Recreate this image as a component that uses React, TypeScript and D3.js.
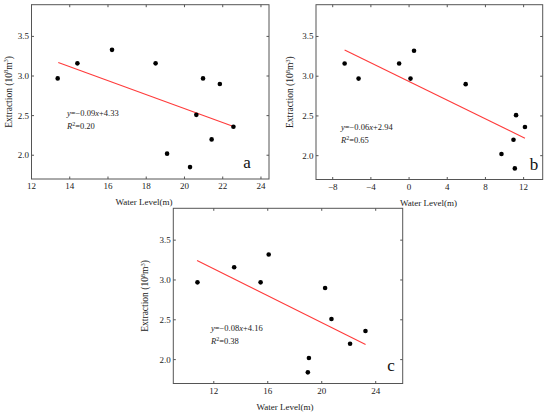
import React from "react";
import * as d3 from "d3";

// extraction (10^8 m3) vs water level (m), one point per year
const waterA = [13.37, 14.4, 16.21, 18.49, 19.09, 20.29, 20.62, 20.97, 21.42, 21.85, 22.56];
const extrA = [2.97, 3.16, 3.33, 3.16, 2.02, 1.85, 2.51, 2.97, 2.2, 2.9, 2.36];
const waterB = [-6.75, -5.29, -1.04, 0.15, 0.52, 5.93, 9.68, 10.94, 11.08, 11.21, 12.14];
const extrB = [3.16, 2.97, 3.16, 2.97, 3.32, 2.9, 2.02, 2.2, 1.84, 2.51, 2.36];
const waterC = [10.79, 13.51, 15.47, 16.07, 18.97, 19.05, 20.25, 20.72, 22.1, 23.24];
const extrC = [2.97, 3.16, 2.97, 3.32, 1.84, 2.02, 2.9, 2.51, 2.2, 2.36];

// fitted line end points [water, extraction]
const fitA = [[13.4, 3.17], [22.6, 2.36]];
const fitB = [[-6.75, 3.33], [12.14, 2.22]];
const fitC = [[10.76, 3.245], [23.25, 2.19]];

const ticksXA = [12, 14, 16, 18, 20, 22, 24];
const ticksXB = [-8, -4, 0, 4, 8, 12];
const ticksXC = [12, 16, 20, 24];
const ticksY = [2.0, 2.5, 3.0, 3.5];

const eqA = { slope: "0.09", icpt: "4.33", r2: "0.20" };
const eqB = { slope: "0.06", icpt: "2.94", r2: "0.65" };
const eqC = { slope: "0.08", icpt: "4.16", r2: "0.38" };

const FONT = "'Liberation Serif', 'Times New Roman', serif";
const AXIS = "#555";

type PanelProps = {
  xs: number[];
  ys: number[];
  fit: number[][];
  xTicks: number[];
  xDomain: [number, number];
  left: number;
  right: number;
  top: number;
  bottom: number;
  eq: { slope: string; icpt: string; r2: string };
  eqPos: [number, number];
  letter: string;
  letterPos: [number, number];
  titleX: number;
  yTitleX: number;
};

const Panel = (p: PanelProps) => {
  const x = d3.scaleLinear().domain(p.xDomain).range([p.left, p.right]);
  const y = d3.scaleLinear().domain([1.7, 3.9]).range([p.bottom, p.top]);
  const line = d3
    .line<number[]>()
    .x((d) => x(d[0]))
    .y((d) => y(d[1]));
  const fmtX = (v: number) => (v < 0 ? "\u2212" + Math.abs(v) : String(v));
  const tk = 2.5;
  const midY = (p.top + p.bottom) / 2;

  return (
    <g fontFamily={FONT}>
      <rect
        x={p.left}
        y={p.top}
        width={p.right - p.left}
        height={p.bottom - p.top}
        fill="none"
        stroke={AXIS}
        strokeWidth={1}
      />
      {p.xTicks.map((t) => (
        <g key={"x" + t}>
          <line x1={x(t)} x2={x(t)} y1={p.bottom} y2={p.bottom - tk} stroke={AXIS} />
          <line x1={x(t)} x2={x(t)} y1={p.top} y2={p.top + tk} stroke={AXIS} />
          <text x={x(t)} y={p.bottom + 10} fontSize={9} textAnchor="middle" fill="#222">
            {fmtX(t)}
          </text>
        </g>
      ))}
      {ticksY.map((t) => (
        <g key={"y" + t}>
          <line x1={p.left} x2={p.left + tk} y1={y(t)} y2={y(t)} stroke={AXIS} />
          <line x1={p.right} x2={p.right - tk} y1={y(t)} y2={y(t)} stroke={AXIS} />
          <text x={p.left - 2.5} y={y(t) + 3} fontSize={9} textAnchor="end" fill="#222">
            {t.toFixed(1)}
          </text>
        </g>
      ))}
      <path d={line(p.fit) || ""} stroke="#ff3b3b" strokeWidth={1.1} fill="none" />
      {p.xs.map((v, i) => (
        <circle key={i} cx={x(v)} cy={y(p.ys[i])} r={2.3} fill="#000" />
      ))}
      <text x={p.eqPos[0]} y={p.eqPos[1]} fontSize={8.5} fill="#222">
        <tspan fontStyle="italic">y</tspan>
        {"=\u2212" + p.eq.slope}
        <tspan fontStyle="italic">x</tspan>
        {"+" + p.eq.icpt}
      </text>
      <text x={p.eqPos[0]} y={p.eqPos[1] + 13} fontSize={8.5} fill="#222">
        <tspan fontStyle="italic">R</tspan>
        <tspan fontSize={6} dy={-3.5}>2</tspan>
        <tspan dy={3.5}>{"=" + p.eq.r2}</tspan>
      </text>
      <text x={p.letterPos[0]} y={p.letterPos[1]} fontSize={17} textAnchor="middle" fill="#111">
        {p.letter}
      </text>
      <text x={p.titleX} y={p.bottom + 26} fontSize={9} textAnchor="middle" fill="#222">
        Water Level(m)
      </text>
      <text
        transform={`translate(${p.yTitleX},${midY}) rotate(-90)`}
        fontSize={9.5}
        textAnchor="middle"
        fill="#222"
      >
        {"Extraction (10"}
        <tspan fontSize={6.5} dy={-3.5}>8</tspan>
        <tspan dy={3.5}>m</tspan>
        <tspan fontSize={6.5} dy={-3.5}>3</tspan>
        <tspan dy={3.5}>)</tspan>
      </text>
    </g>
  );
};

export default function App() {
  return (
    <div style={{ position: "absolute", left: 0, top: 0 }}>
      <svg width={550} height={414} style={{ display: "block", background: "#fff" }}>
        <Panel
          xs={waterA}
          ys={extrA}
          fit={fitA}
          xTicks={ticksXA}
          xDomain={[12, 24.42]}
          left={31.5}
          right={269}
          top={4.7}
          bottom={179}
          eq={eqA}
          eqPos={[67, 116]}
          letter="a"
          letterPos={[247, 168]}
          titleX={144}
          yTitleX={11.5}
        />
        <Panel
          xs={waterB}
          ys={extrB}
          fit={fitB}
          xTicks={ticksXB}
          xDomain={[-9.75, 14]}
          left={316}
          right={542.7}
          top={4.7}
          bottom={179.5}
          eq={eqB}
          eqPos={[341, 130]}
          letter="b"
          letterPos={[534, 170]}
          titleX={428.5}
          yTitleX={293}
        />
        <Panel
          xs={waterC}
          ys={extrC}
          fit={fitC}
          xTicks={ticksXC}
          xDomain={[9, 26]}
          left={173.3}
          right={402.7}
          top={208.3}
          bottom={383.5}
          eq={eqC}
          eqPos={[211, 331]}
          letter="c"
          letterPos={[391, 371]}
          titleX={285}
          yTitleX={148}
        />
      </svg>
    </div>
  );
}
